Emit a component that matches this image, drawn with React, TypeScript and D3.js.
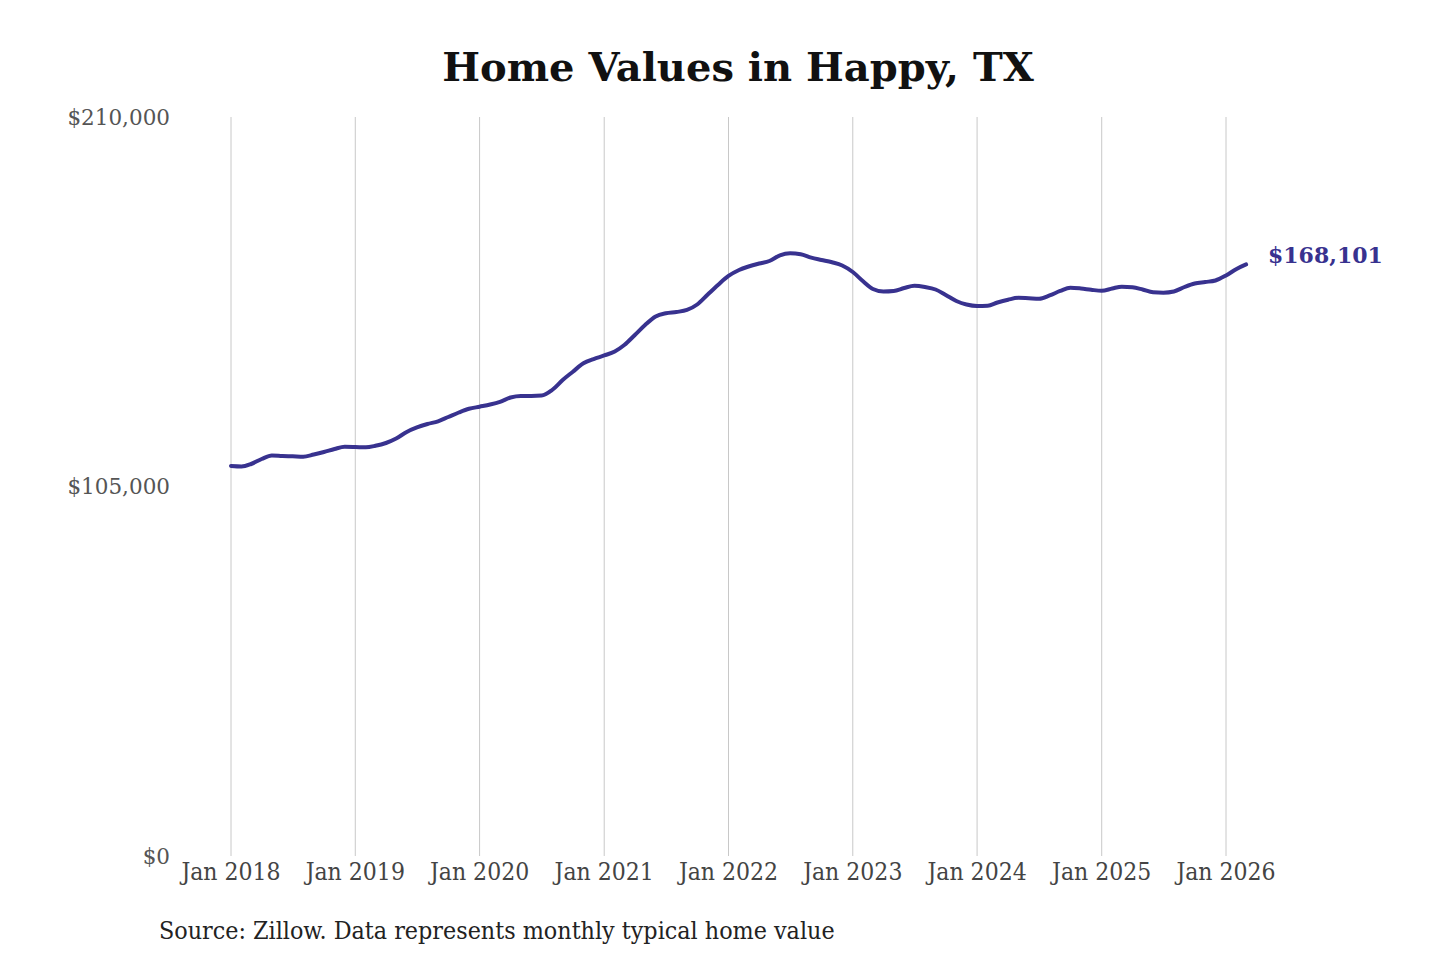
import React from 'react'
import * as d3 from 'd3'

const startMonth = new Date(2018, 0, 1)
const homeValues = [
  110826, 110684, 111394, 112815, 113810, 113668, 113580, 113470, 114095, 114805, 115660, 116280,
  116225, 116140, 116560, 117360, 118640, 120490, 121770, 122760, 123530, 124750, 126030, 127080,
  127680, 128300, 129070, 130290, 130720, 130720, 130830, 132420, 135260, 137620, 140010, 141230,
  142230, 143370, 145210, 148050, 150890, 153310, 154220, 154590, 155160, 156720, 159560, 162260,
  164820, 166520, 167520, 168370, 169080, 170700, 171270, 170990, 170020, 169370, 168710, 167800,
  165950, 163250, 161120, 160410, 160550, 161410, 162030, 161690, 160980, 159420, 157710, 156720,
  156290, 156350, 157290, 158080, 158620, 158480, 158340, 159280, 160560, 161490, 161270, 160900,
  160610, 161270, 161780, 161610, 160980, 160190, 160070, 160410, 161690, 162690, 163110, 163540,
  164960, 166810, 168101,
]
const yTicks = [0, 105000, 210000]
const xTickYears = [2018, 2019, 2020, 2021, 2022, 2023, 2024, 2025, 2026]

const W = 1440
const H = 960
const LINE = '#38328f'

export default function App() {
  const data = homeValues.map((v, i) => ({ date: d3.timeMonth.offset(startMonth, i), value: v }))

  const x = d3.scaleTime()
    .domain([new Date(2018, 0, 1), new Date(2026, 0, 1)])
    .range([231, 1226])
  const y = d3.scaleLinear().domain([0, 210000]).range([856, 117])

  const line = d3.line<{ date: Date; value: number }>()
    .x(d => x(d.date))
    .y(d => y(d.value))
    .curve(d3.curveMonotoneX)

  const fmtY = d3.format('$,')
  const fmtX = d3.timeFormat('%b %Y')
  const last = data[data.length - 1]

  return (
    <svg width={W} height={H} style={{ position: 'absolute', left: 0, top: 0, background: '#fff' }}>
      <text x={738} y={81} textAnchor="middle" fontFamily="DejaVu Serif" fontWeight="bold" fontSize={40} fill="#111">
        Home Values in Happy, TX
      </text>

      {xTickYears.map(yr => {
        const d = new Date(yr, 0, 1)
        return (
          <g key={yr}>
            <line x1={x(d)} x2={x(d)} y1={y(210000)} y2={y(0)} stroke="#c8c8c8" strokeWidth={1} />
            <text x={x(d)} y={880} textAnchor="middle" fontFamily="DejaVu Serif Condensed" fontSize={24.5} fill="#444">
              {fmtX(d)}
            </text>
          </g>
        )
      })}

      {yTicks.map(t => (
        <text key={t} x={170} y={y(t)} dy="0.35em" textAnchor="end" fontFamily="DejaVu Serif" fontSize={21.5} fill="#555">
          {fmtY(t)}
        </text>
      ))}

      <path d={line(data) ?? ''} fill="none" stroke={LINE} strokeWidth={4} strokeLinejoin="round" strokeLinecap="round" />

      <text x={1268} y={y(last.value) - 9} dy="0.35em" fontFamily="DejaVu Serif" fontWeight="bold" fontSize={22} fill={LINE}>
        {fmtY(last.value)}
      </text>

      <text x={159} y={939} fontFamily="DejaVu Serif Condensed" fontSize={24.8} fill="#222">
        Source: Zillow. Data represents monthly typical home value
      </text>
    </svg>
  )
}
